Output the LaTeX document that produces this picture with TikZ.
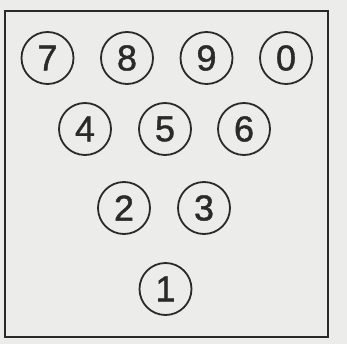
\documentclass[tikz,border=0pt]{standalone}
\usepackage{fontspec}
\newfontfamily\pinfont[BoldFont={Liberation Sans},BoldFeatures={FakeBold=1.2}]{Liberation Sans}
\definecolor{paper}{HTML}{ECECEA}
\definecolor{ink}{HTML}{2A2A2A}
\begin{document}
\begin{tikzpicture}[x=1pt,y=-1pt,
  pin/.style={draw=ink,line width=1.8pt,circle,minimum size=52pt,inner sep=0pt,
    text=ink,font=\pinfont\bfseries\fontsize{36}{36}\selectfont}]
\fill[paper] (0,0) rectangle (347,344);
\useasboundingbox (0,0) rectangle (347,344);
\draw[ink,line width=2.2pt] (5,11) rectangle (328,337);
\node[pin] (p7) at (47.5,58) {7};
\node[pin] (p8) at (127,58) {8};
\node[pin] (p9) at (206.5,58) {9};
\node[pin] (p0) at (286,58) {0};
\node[pin] (p4) at (85,129) {4};
\node[pin] (p5) at (165,129) {5};
\node[pin] (p6) at (244,129) {6};
\node[pin] (p2) at (124,208) {2};
\node[pin] (p3) at (204,208) {3};
\node[pin] (p1) at (165.5,289) {1};
\end{tikzpicture}
\end{document}
